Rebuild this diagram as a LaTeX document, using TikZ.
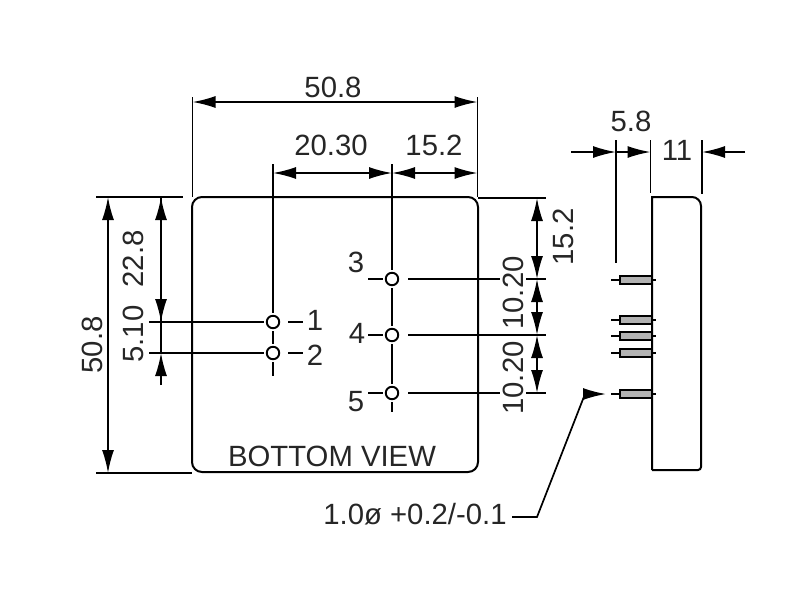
\documentclass[tikz,border=0pt]{standalone}
\usepackage{fontspec}
\setmainfont{Liberation Sans}
\usetikzlibrary{arrows.meta}
\tikzset{
  dimline/.style={line width=1.7pt, {Latex[length=23pt,width=12pt]}-{Latex[length=23pt,width=12pt]}},
  tipline/.style={line width=1.7pt, -{Latex[length=23pt,width=12pt]}},
  extline/.style={line width=1.7pt},
  outline/.style={line width=2pt},
  pinhole/.style={circle, draw, line width=1.9pt, inner sep=0pt, minimum size=12.5pt, outer sep=3pt},
  dimtext/.style={inner sep=0pt, font=\fontsize{29.3}{31}\selectfont, text=black!85},
}
\begin{document}
\begin{tikzpicture}[x=1pt, y=-1pt]
      \useasboundingbox (0,0) rectangle (800,600);

      % Pin circles
      \node[pinhole] (pinA) at (273,322) {};
      \node[pinhole] (pinB) at (273,353) {};
      \node[pinhole] (pinC) at (392,279) {};
      \node[pinhole] (pinD) at (392,335) {};
      \node[pinhole] (pinE) at (392,393) {};

      % Module outlines
      \draw[outline, rounded corners=10pt] (192,197) rectangle (478,472);
      \draw[outline] (652,470) -- (652,197) [rounded corners=9pt] -- (701,197) [rounded corners=3pt] -- (701,470) [sharp corners] -- (652,470);

      % Extension lines, top
      \draw[extline] (192.5,97) -- (192.5,197);
      \draw[extline] (477.5,97) -- (477.5,197);
      \draw[extline] (273,164) -- (pinA);
      \draw[extline] (392,164) -- (pinC);
      \draw[extline] (pinA) -- (pinB);
      \draw[extline] (pinC) -- (pinD);
      \draw[extline] (pinD) -- (pinE);
      \draw[extline] (pinB) -- (273,376);
      \draw[extline] (pinE) -- (392,412);

      % Extension lines, left
      \draw[extline] (96,197) -- (183,197);
      \draw[extline] (96,473) -- (192,473);
      \draw[extline] (149,322) -- (pinA);
      \draw[extline] (149,353) -- (pinB);

      % Extension lines, right
      \draw[extline] (478,198) -- (546,198);
      \draw[extline] ([xshift=7pt]pinC.east) -- (500,279);
      \draw[extline] (526,279) -- (546,279);
      \draw[extline] ([xshift=7pt]pinD.east) -- (546,335);
      \draw[extline] ([xshift=7pt]pinE.east) -- (500,393);
      \draw[extline] (526,393) -- (546,393);

      % Dashes beside the pin numbers
      \draw[extline] (288,322) -- (303,322);
      \draw[extline] (288,353) -- (303,353);
      \draw[extline] (368,279) -- (383,279);
      \draw[extline] (368,335) -- (383,335);
      \draw[extline] (368,393) -- (383,393);

      % Dimensions
      \draw[dimline] (192.5,102) -- (477.5,102);
      \draw[dimline] (273,173) -- (392,173);
      \draw[dimline] (392,173) -- (477.5,173);
      \draw[dimline] (108,197) -- (108,473);
      \draw[tipline] (161,322) -- (161,197);
      \draw[tipline] (161,197) -- (161,322);
      \draw[extline] (161,322) -- (161,353);
      \draw[tipline] (161,385) -- (161,353);
      \draw[dimline] (537,198) -- (537,279);
      \draw[dimline] (537,279) -- (537,335);
      \draw[dimline] (537,335) -- (537,393);

      % Side view dimensions
      \draw[extline] (616,140) -- (616,263);
      \draw[extline] (650.5,140) -- (650.5,193);
      \draw[extline] (702,140) -- (702,194);
      \draw[tipline] (571,152) -- (616,152);
      \draw[tipline] (616,152) -- (650.5,152);
      \draw[tipline] (745,152) -- (702,152);

      % Side view pins
      \foreach \y in {280,320,336,353,394} {
        \draw[line width=1.6pt, fill=black!30] (620,\y-4) rectangle (652,\y+4);
        \draw[extline] (611,\y) -- (620,\y);
        \draw[extline] (652,\y) -- (656,\y);
      }

      % Leader
      \draw[tipline] (512,517) -- (537,517) -- (585,394) -- (606,394);

      % Labels
      \node[dimtext] (topW) at (333,87) {50.8};
      \node[dimtext] (topA) at (331,145) {20.30};
      \node[dimtext] (topB) at (434,145) {15.2};
      \node[dimtext, rotate=90] (leftH) at (92,345) {50.8};
      \node[dimtext, rotate=90] (leftA) at (133,259) {22.8};
      \node[dimtext, rotate=90] (leftB) at (133,334) {5.10};
      \node[dimtext, rotate=90] (rightA) at (563,237) {15.2};
      \node[dimtext, rotate=90] (rightB) at (513,293) {10.20};
      \node[dimtext, rotate=90] (rightC) at (513,378) {10.20};
      \node[dimtext] (sideA) at (631,121) {5.8};
      \node[dimtext] (sideB) at (677,150) {11};
      \node[dimtext] (numA) at (315,320) {1};
      \node[dimtext] (numB) at (315,355) {2};
      \node[dimtext] (numC) at (356,262) {3};
      \node[dimtext] (numD) at (357,333) {4};
      \node[dimtext] (numE) at (356,402) {5};
      \node[dimtext] (bottomview) at (332,456) {BOTTOM VIEW};
      \node[dimtext] (holesize) at (415,514) {1.0ø +0.2/-0.1};
    \end{tikzpicture}
\end{document}
